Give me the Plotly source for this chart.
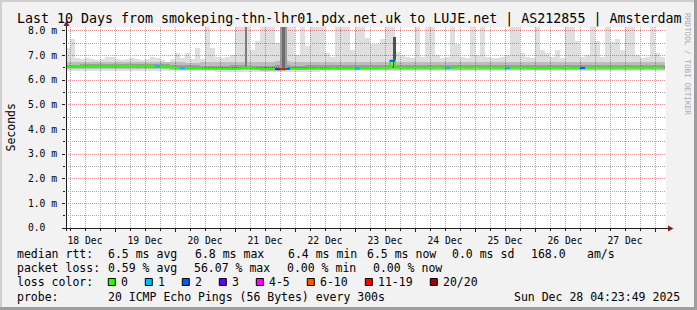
import plotly.graph_objects as go
import pandas as pd

# ---------------- data ----------------
title_text = "Last 10 Days from smokeping-thn-lhr01.pdx.net.uk to LUJE.net | AS212855 | Amsterdam"
y_label = "Seconds"
watermark = "RRDTOOL / TOBI OETIKER"
x_range = ["2025-12-18 04:24", "2025-12-28 04:24"]
y_range = [0, 8.15]
y_tick_vals = [0, 1, 2, 3, 4, 5, 6, 7, 8]
y_tick_text = ["0.0\u00a0\u00a0", "1.0 m", "2.0 m", "3.0 m", "4.0 m", "5.0 m", "6.0 m", "7.0 m", "8.0 m"]

# 2-hour steps (ms)
bin2_times = pd.date_range("2025-12-18 05:00", periods=120, freq="2h")
rtt_max = [
    7.30, 7.65, 6.90, 6.85, 6.90, 6.85, 6.80, 6.85, 6.95, 6.95,
    6.85, 6.80, 6.85, 6.90, 6.85, 6.80, 6.85, 6.95, 6.90, 6.80,
    6.75, 6.85, 7.10, 6.90, 7.10, 6.85, 7.30, 6.85, 8.30, 7.30,
    6.95, 6.90, 6.95, 7.00, 8.30, 8.30, 8.30, 7.20, 7.60, 8.30,
    8.30, 8.30, 7.50, 8.30, 8.30, 8.30, 7.00, 8.30, 7.40, 8.30,
    8.30, 8.30, 7.10, 6.95, 8.30, 8.30, 8.30, 7.20, 8.30, 8.30,
    7.70, 7.45, 7.45, 7.65, 8.30, 8.30, 7.15, 7.00, 6.95, 6.90,
    8.30, 6.95, 8.30, 8.30, 7.00, 6.90, 6.95, 8.30, 7.45, 6.95,
    6.90, 8.30, 7.00, 8.30, 6.95, 6.90, 6.90, 6.95, 7.00, 8.30,
    8.30, 7.10, 6.95, 6.90, 8.30, 7.20, 7.10, 6.95, 7.20, 6.90,
    8.30, 8.30, 7.60, 6.95, 7.00, 8.30, 7.60, 6.95, 8.30, 7.55,
    7.65, 7.20, 8.30, 8.30, 7.00, 6.90, 6.95, 8.30, 7.10, 6.95,
]
rtt_median = [
    6.53, 6.53, 6.54, 6.53, 6.53, 6.54, 6.53, 6.54, 6.54, 6.55,
    6.55, 6.56, 6.55, 6.56, 6.56, 6.55, 6.56, 6.55, 6.55, 6.54,
    6.52, 6.50, 6.49, 6.48, 6.48, 6.47, 6.48, 6.47, 6.46, 6.46,
    6.46, 6.45, 6.46, 6.45, 6.46, 6.48, 6.50, 6.47, 6.46, 6.45,
    6.45, 6.45, 6.44, 6.44, 6.45, 6.46, 6.46, 6.45, 6.46, 6.46,
    6.47, 6.46, 6.47, 6.49, 6.47, 6.48, 6.47, 6.48, 6.47, 6.48,
    6.48, 6.49, 6.49, 6.50, 6.50, 6.78, 6.50, 6.50, 6.49, 6.50,
    6.50, 6.51, 6.50, 6.50, 6.51, 6.50, 6.50, 6.50, 6.51, 6.51,
    6.50, 6.51, 6.51, 6.50, 6.50, 6.51, 6.50, 6.50, 6.49, 6.50,
    6.50, 6.51, 6.50, 6.49, 6.48, 6.48, 6.49, 6.50, 6.50, 6.49,
    6.50, 6.50, 6.49, 6.49, 6.50, 6.50, 6.51, 6.51, 6.50, 6.50,
    6.51, 6.50, 6.51, 6.51, 6.50, 6.50, 6.51, 6.50, 6.51, 6.51,
]

# 6-hour smoke percentiles (ms)
bin6_times = pd.date_range("2025-12-18 07:00", periods=40, freq="6h")
smoke_min = [
    6.37, 6.38, 6.37, 6.38, 6.38, 6.37, 6.38, 6.37, 6.36, 6.35,
    6.34, 6.34, 6.33, 6.34, 6.33, 6.34, 6.34, 6.35, 6.35, 6.35,
    6.36, 6.36, 6.36, 6.37, 6.36, 6.36, 6.37, 6.36, 6.37, 6.36,
    6.36, 6.37, 6.36, 6.37, 6.36, 6.36, 6.37, 6.36, 6.37, 6.36,
]
smoke_p25 = [
    6.43, 6.43, 6.44, 6.43, 6.44, 6.44, 6.43, 6.42, 6.41, 6.40,
    6.39, 6.39, 6.39, 6.38, 6.39, 6.39, 6.40, 6.40, 6.40, 6.41,
    6.41, 6.42, 6.42, 6.42, 6.41, 6.42, 6.42, 6.42, 6.42, 6.41,
    6.42, 6.42, 6.41, 6.42, 6.42, 6.42, 6.42, 6.41, 6.42, 6.42,
]
smoke_p40 = [
    6.50, 6.50, 6.51, 6.51, 6.52, 6.52, 6.51, 6.49, 6.47, 6.46,
    6.45, 6.45, 6.44, 6.44, 6.45, 6.45, 6.46, 6.46, 6.47, 6.47,
    6.48, 6.48, 6.49, 6.49, 6.48, 6.49, 6.49, 6.49, 6.48, 6.48,
    6.49, 6.49, 6.48, 6.49, 6.49, 6.48, 6.49, 6.49, 6.49, 6.49,
]
smoke_p60 = [
    6.62, 6.63, 6.63, 6.64, 6.65, 6.64, 6.63, 6.61, 6.59, 6.58,
    6.58, 6.59, 6.58, 6.58, 6.59, 6.58, 6.59, 6.59, 6.60, 6.60,
    6.60, 6.60, 6.61, 6.61, 6.60, 6.61, 6.61, 6.61, 6.60, 6.60,
    6.61, 6.61, 6.60, 6.61, 6.61, 6.60, 6.61, 6.61, 6.61, 6.61,
]
smoke_p75 = [
    6.72, 6.73, 6.74, 6.74, 6.75, 6.74, 6.73, 6.72, 6.71, 6.72,
    6.74, 6.75, 6.74, 6.75, 6.76, 6.74, 6.75, 6.74, 6.74, 6.73,
    6.72, 6.72, 6.73, 6.73, 6.72, 6.73, 6.73, 6.72, 6.72, 6.72,
    6.73, 6.73, 6.72, 6.73, 6.73, 6.72, 6.73, 6.73, 6.72, 6.73,
]

# dark variance spikes
spike_times = ["2025-12-21 04:36", "2025-12-21 19:24", "2025-12-21 19:24", "2025-12-23 15:48"]
spike_low = [6.45, 6.42, 6.42, 6.47]
spike_high = [8.30, 8.30, 8.30, 7.75]

# packet loss events
loss_times = ["2025-12-19 17:00", "2025-12-20 03:00", "2025-12-21 17:00", "2025-12-21 19:00",
              "2025-12-21 21:00", "2025-12-23 01:00", "2025-12-23 15:00", "2025-12-24 13:00",
              "2025-12-25 13:00", "2025-12-26 19:00"]
loss_counts = [1, 1, 3, 15, 2, 1, 2, 1, 1, 2]
loss_labels = ["0", "1", "2", "3", "4-5", "6-10", "11-19", "20/20"]
loss_upper = [0, 1, 2, 3, 5, 10, 19, 20]
loss_colors = ["#26ff00", "#00b8ff", "#0059ff", "#5e00ff", "#ff00ff", "#ff5500", "#ff0000", "#a10000"]

# legend text
row_rtt = ["median rtt:", "6.5 ms avg", "6.8 ms max", "6.4 ms min", "6.5 ms now", "0.0 ms sd", "168.0", "am/s"]
row_loss = ["packet loss:", "0.59 % avg", "56.07 % max", "0.00 % min", "0.00 % now"]
row_color = "loss color:"
row_probe = ["probe:", "20 ICMP Echo Pings (56 Bytes) every 300s"]
stamp = "Sun Dec 28 04:23:49 2025"

# ---------------- style / layout ----------------
W, H = 697, 310
PL, PR, PT, PB = 66, 666, 27, 228
MONO = "DejaVu Sans Mono"
BACK = "#f2f2f2"
SHADE_A = "#cfcfcf"
SHADE_B = "#9e9e9e"
GRID = "#ababab"
MGRID = "#eb9595"
ARROW = "#801f1f"
AXIS = "#1f1f1f"
H2 = 2 * 3600 * 1000
H6 = 6 * 3600 * 1000


def xp(px):
    return (px - PL) / (PR - PL)


def yp(py):
    return (PB - py) / (PB - PT)


fig = go.Figure()

# smoke: light envelope min..max
light_base = [smoke_min[i // 3] for i in range(len(rtt_max))]
fig.add_trace(go.Bar(
    x=bin2_times, base=light_base, y=[m - b for m, b in zip(rtt_max, light_base)],
    width=H2, marker=dict(color="rgba(0,0,0,0.125)", line=dict(width=0)), hoverinfo="skip"))
# medium band
fig.add_trace(go.Bar(
    x=bin6_times, base=smoke_p25, y=[a - b for a, b in zip(smoke_p75, smoke_p25)],
    width=H6, marker=dict(color="rgba(0,0,0,0.15)", line=dict(width=0)), hoverinfo="skip"))
# dark core
fig.add_trace(go.Bar(
    x=bin6_times, base=smoke_p40, y=[a - b for a, b in zip(smoke_p60, smoke_p40)],
    width=H6, marker=dict(color="rgba(0,0,0,0.17)", line=dict(width=0)), hoverinfo="skip"))
# dark spikes
spike_widths = [40 * 60000, 168 * 60000, 72 * 60000, 72 * 60000]
spike_colors = ["#7c7c7c", "#9a9a9a", "#6c6c6c", "#505050"]
fig.add_trace(go.Bar(
    x=pd.to_datetime(spike_times), base=spike_low, y=[h - l for h, l in zip(spike_high, spike_low)],
    width=spike_widths, marker=dict(color=spike_colors, line=dict(width=0)), hoverinfo="skip"))

# median line
fig.add_trace(go.Scatter(
    x=bin2_times, y=rtt_median, mode="lines",
    line=dict(color=loss_colors[0], width=2, shape="hvh"), hoverinfo="skip"))

# loss coloured segments
tlist = list(bin2_times)
seg = {}
for t, c in zip(loss_times, loss_counts):
    ts = pd.Timestamp(t)
    idx = tlist.index(ts)
    cat = next(j for j, u in enumerate(loss_upper) if c <= u)
    xs, ys = seg.setdefault(cat, ([], []))
    xs += [ts - pd.Timedelta(hours=1), ts + pd.Timedelta(hours=1), None]
    ys += [rtt_median[idx], rtt_median[idx], None]
for cat, (xs, ys) in seg.items():
    fig.add_trace(go.Scatter(x=xs, y=ys, mode="lines",
                             line=dict(color=loss_colors[cat], width=2), hoverinfo="skip"))

ann = []


def text(s, px, py, size=11.5, anchor="left", color="#000000", angle=0):
    ann.append(dict(text=s, x=xp(px), y=yp(py), xref="paper", yref="paper",
                    xanchor=anchor, yanchor="middle", showarrow=False, textangle=angle,
                    font=dict(family=MONO, size=size, color=color), borderpad=0))


text(title_text, 348.5, 19, size=13.3, anchor="center")
text(y_label, 10, 127.5, angle=-90, anchor="center")
text(watermark, 688, 64, size=7.7, anchor="center", color="#a8a8a8", angle=90)

rtt_x = [16, 107, 194, 287, 366, 451.5, 530.5, 586]
for s, px in zip(row_rtt, rtt_x):
    text(s, px - 0.5, 253.5)
loss_x = [16, 107, 193, 286, 372]
for s, px in zip(row_loss, loss_x):
    text(s, px - 0.5, 268)
text(row_color, 15.5, 282)
text(row_probe[0], 15.5, 296.5)
text(row_probe[1], 106.5, 296.5)
text(stamp, 680.5, 296.5, anchor="right")

shapes = []
sx = 108.3
for lab, col in zip(loss_labels, loss_colors):
    shapes.append(dict(type="rect", xref="paper", yref="paper",
                       x0=xp(sx), x1=xp(sx + 7), y0=yp(285.5), y1=yp(278.5),
                       fillcolor=col, line=dict(color="#000000", width=1), layer="above"))
    text(lab, sx + 11.2, 282)
    sx += 30 + 7 * len(lab)

# frame shading
def band(x0, x1, y0, y1, col):
    shapes.append(dict(type="rect", xref="paper", yref="paper", x0=xp(x0), x1=xp(x1),
                       y0=yp(y1), y1=yp(y0), fillcolor=col, line=dict(width=0), layer="above"))


band(0, 697, 0, 2, SHADE_A)
band(0, 2, 0, 310, SHADE_A)
band(0, 697, 307, 310, SHADE_B)
band(694, 697, 0, 310, SHADE_B)

# axis lines + arrows
shapes.append(dict(type="line", xref="paper", yref="paper", x0=xp(62), x1=xp(669),
                   y0=yp(228.5), y1=yp(228.5), line=dict(color=AXIS, width=1), layer="above"))
shapes.append(dict(type="line", xref="paper", yref="paper", x0=xp(66.5), x1=xp(66.5),
                   y0=yp(231), y1=yp(24), line=dict(color=AXIS, width=1), layer="above"))
shapes.append(dict(type="path", xref="paper", yref="paper",
                   path=f"M {xp(63.5)} {yp(26)} L {xp(69.5)} {yp(26)} L {xp(66.5)} {yp(20.5)} Z",
                   fillcolor=ARROW, line=dict(width=0), layer="above"))
shapes.append(dict(type="path", xref="paper", yref="paper",
                   path=f"M {xp(668)} {yp(225.5)} L {xp(668)} {yp(231.5)} L {xp(673.5)} {yp(228.5)} Z",
                   fillcolor=ARROW, line=dict(width=0), layer="above"))

fig.update_layout(
    width=W, height=H, autosize=False,
    margin=dict(l=PL, r=W - PR, t=PT, b=H - PB, pad=0),
    paper_bgcolor=BACK, plot_bgcolor="#ffffff",
    showlegend=False, barmode="overlay", bargap=0,
    font=dict(family=MONO, color="#000000"),
    annotations=ann, shapes=shapes,
    xaxis=dict(
        type="date", range=x_range, dtick=86400000, tick0="2025-12-18",
        tickformat="%d %b", ticklabelmode="period",
        showgrid=True, gridcolor=MGRID, griddash="1px,1px", gridwidth=1,
        ticks="outside", ticklen=3, tickcolor=AXIS, tickfont=dict(size=9.7, family=MONO),
        showline=False, zeroline=False, fixedrange=True,
        minor=dict(dtick=H6, tick0="2025-12-18", showgrid=True, gridcolor=GRID,
                   griddash="1px,1px", ticks="outside", ticklen=2, tickcolor=AXIS),
    ),
    yaxis=dict(
        range=y_range, tickmode="array", tickvals=y_tick_vals, ticktext=y_tick_text,
        showgrid=True, gridcolor=MGRID, griddash="1px,1px", gridwidth=1,
        ticks="outside", ticklen=3, tickcolor=AXIS, tickfont=dict(size=9.7, family=MONO),
        ticklabelstandoff=3,
        showline=False, zeroline=False, fixedrange=True,
        minor=dict(tickmode="linear", tick0=0, dtick=0.5, showgrid=True, gridcolor=GRID,
                   griddash="1px,1px", ticks="outside", ticklen=2, tickcolor=AXIS),
    ),
)

fig.write_html("out.html")
